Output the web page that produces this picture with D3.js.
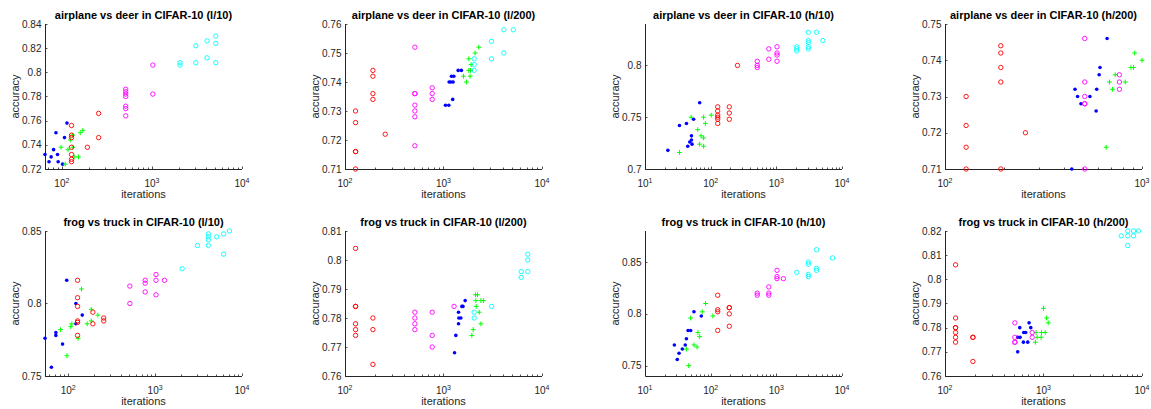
<!DOCTYPE html>
<html>
<head>
<meta charset="utf-8">
<script src="https://cdn.jsdelivr.net/npm/d3@7"></script>
<style>
body { margin: 0; background: #fff; }
svg { display: block; font-family: "Liberation Sans", Arial, sans-serif; }
</style>
</head>
<body>
<div id="chart"></div>
<script>
// titles and axis limits, one entry per subplot (row by row)
var titles = [
  "airplane vs deer in CIFAR-10 (l/10)", "airplane vs deer in CIFAR-10 (l/200)",
  "airplane vs deer in CIFAR-10 (h/10)", "airplane vs deer in CIFAR-10 (h/200)",
  "frog vs truck in CIFAR-10 (l/10)", "frog vs truck in CIFAR-10 (l/200)",
  "frog vs truck in CIFAR-10 (h/10)", "frog vs truck in CIFAR-10 (h/200)"
];
var xDomains = [[65, 1e4], [100, 1e4], [10, 1e4], [100, 1000], [54, 1e4], [100, 1e4], [10, 1e4], [100, 1e4]];
var xTicks = [[100, 1000, 10000], [100, 1000, 10000], [10, 100, 1000, 10000], [100, 1000],
              [100, 1000, 10000], [100, 1000, 10000], [10, 100, 1000, 10000], [100, 1000, 10000]];
var yDomains = [[0.72, 0.84], [0.71, 0.76], [0.70, 0.84], [0.71, 0.75], [0.75, 0.85], [0.76, 0.81], [0.74, 0.88], [0.76, 0.82]];
var yTicks = [
  [0.72, 0.74, 0.76, 0.78, 0.8, 0.82, 0.84],
  [0.71, 0.72, 0.73, 0.74, 0.75, 0.76],
  [0.7, 0.75, 0.8],
  [0.71, 0.72, 0.73, 0.74, 0.75],
  [0.75, 0.8, 0.85],
  [0.76, 0.77, 0.78, 0.79, 0.8, 0.81],
  [0.75, 0.8, 0.85],
  [0.76, 0.77, 0.78, 0.79, 0.8, 0.81, 0.82]
];

// points [iterations, accuracy]
var adL10Blue = [[65,.732],[72,.726],[76,.730],[81,.736],[86,.750],[89.5,.732],[91,.726],[102,.724],[107,.746],[114,.758]];
var adL10Green = [[98,.738],[109,.724],[117,.736],[124,.744],[132,.748],[133,.738],[137,.730],[153,.730],[160,.750],[171,.752]];
var adL10Red = [[128,.756],[128,.748],[128,.746],[128,.738],[128,.732],[128,.728],[128,.726],[192,.738],[256,.766],[256,.746]];
var adL10Magenta = [[512,.786],[512,.784],[512,.782],[512,.780],[512,.772],[512,.770],[512,.764],[1024,.806],[1024,.782]];
var adL10Cyan = [[2048,.808],[2048,.806],[3072,.822],[3072,.808],[4096,.826],[4096,.812],[5120,.830],[5120,.824],[5120,.808]];

var adL200Blue = [[1047,.732],[1132,.732],[1141,.740],[1190,.740],[1205,.742],[1240,.734],[1252,.740],[1273,.742],[1409,.744],[1520,.744]];
var adL200Green = [[1597,.742],[1710,.740],[1807,.744],[1807,.748],[1862,.742],[1880,.744],[1906,.746],[2094,.750],[2282,.752]];
var adL200Red = [[128,.730],[128,.726],[128,.716],[128,.716],[128,.710],[192,.744],[192,.742],[192,.736],[192,.734],[256,.722]];
var adL200Magenta = [[512,.752],[512,.736],[512,.736],[512,.732],[512,.730],[512,.728],[512,.718],[768,.738],[768,.736],[768,.734]];
var adL200Cyan = [[2048,.748],[2048,.746],[2048,.744],[3072,.754],[3072,.748],[4096,.758],[4096,.750],[5120,.758]];

var adH10Blue = [[22.3,.718],[33.5,.742],[42.8,.744],[44.8,.722],[48,.726],[51,.728],[51,.732],[52,.724],[55,.748],[68,.764]];
var adH10Green = [[33.5,.716],[50.4,.750],[63.5,.738],[68,.724],[71.4,.732],[78,.730],[78,.722],[78,.750],[83,.744],[102,.752]];
var adH10Red = [[128,.760],[128,.756],[128,.752],[128,.750],[128,.748],[128,.744],[192,.760],[192,.754],[192,.748],[256,.800]];
var adH10Magenta = [[512,.804],[512,.800],[512,.798],[768,.816],[768,.806],[1024,.818],[1024,.812],[1024,.810],[1024,.804]];
var adH10Cyan = [[2048,.818],[2048,.816],[2048,.814],[3072,.832],[3072,.824],[3072,.822],[3072,.818],[3072,.816],[4096,.832],[5120,.824]];

var adH200Blue = [[440,.710],[457,.732],[471,.730],[490,.728],[544,.730],[585,.726],[589,.732],[606,.736],[612,.738],[665,.746]];
var adH200Green = [[658,.716],[684,.734],[708,.732],[731,.736],[822,.734],[879,.738],[906,.738],[918,.742],[1000,.740]];
var adH200Red = [[128,.730],[128,.722],[128,.716],[128,.710],[192,.744],[192,.742],[192,.738],[192,.734],[192,.710],[256,.720]];
var adH200Magenta = [[512,.746],[512,.734],[512,.730],[512,.728],[512,.728],[512,.710],[768,.736],[768,.734],[768,.732]];
var adH200Cyan = [];

var ftL10Blue = [[54,.776],[64,.756],[72,.778],[72,.780],[86,.772],[96,.816],[122.5,.800],[122.5,.786],[145,.792]];
var ftL10Green = [[81.6,.782],[96.6,.764],[107,.784],[110,.786],[130,.776],[142,.810],[165,.786],[184,.796],[184,.788],[219,.792]];
var ftL10Red = [[128,.816],[128,.804],[128,.798],[128,.788],[128,.787],[128,.778],[192,.794],[192,.786],[256,.790],[256,.788]];
var ftL10Magenta = [[512,.812],[512,.800],[768,.816],[768,.814],[768,.808],[1024,.820],[1024,.816],[1024,.806],[1280,.816]];
var ftL10Cyan = [[2048,.824],[3072,.840],[4096,.848],[4096,.846],[4096,.844],[4096,.840],[5120,.846],[6144,.848],[6144,.834],[7168,.850]];

var ftL200Blue = [[1294,.768],[1335,.774],[1421,.782],[1421,.778],[1432,.780],[1500,.780],[1535,.784],[1577,.784],[1660,.786]];
var ftL200Green = [[1940,.774],[2003,.776],[2115,.788],[2215,.788],[2130,.786],[2150,.784],[2306,.782],[2398,.778],[2398,.786],[2553,.786]];
var ftL200Red = [[128,.804],[128,.784],[128,.784],[128,.778],[128,.776],[128,.774],[192,.780],[192,.776],[192,.764]];
var ftL200Magenta = [[512,.782],[512,.780],[512,.778],[512,.776],[768,.782],[768,.774],[768,.770],[1280,.784]];
var ftL200Cyan = [[2048,.782],[2048,.780],[3072,.784],[6144,.796],[6144,.794],[7168,.802],[7168,.800],[7168,.796]];

var ftH10Blue = [[28,.770],[31,.756],[33,.762],[37,.766],[41,.770],[42.7,.776],[45.3,.784],[49.6,.784],[55.7,.802],[72,.798]];
var ftH10Green = [[42.7,.766],[46.3,.750],[49.6,.796],[55.7,.770],[62,.768],[64,.782],[68,.778],[74.5,.802],[83.7,.810],[108,.798]];
var ftH10Red = [[128,.818],[128,.804],[128,.802],[128,.784],[192,.806],[192,.806],[192,.800],[192,.788]];
var ftH10Magenta = [[512,.820],[512,.818],[768,.826],[768,.820],[768,.818],[1024,.842],[1024,.836],[1024,.834],[1280,.834]];
var ftH10Cyan = [[2048,.840],[3072,.850],[3072,.848],[3072,.838],[3072,.836],[4096,.862],[4096,.844],[4096,.842],[7168,.854]];

var ftH200Blue = [[547,.770],[547,.776],[574,.780],[578,.776],[625,.774],[630,.778],[660,.778],[692,.774],[714,.782],[743,.780]];
var ftH200Green = [[828,.774],[840,.778],[861,.776],[946,.776],[954,.778],[1000,.788],[1040,.778],[1074,.784],[1117,.782]];
var ftH200Red = [[128,.806],[128,.784],[128,.780],[128,.780],[128,.778],[128,.776],[128,.774],[192,.776],[192,.776],[192,.766]];
var ftH200Magenta = [[512,.782],[512,.776],[512,.774],[512,.774],[768,.778],[768,.776]];
var ftH200Cyan = [[6144,.818],[7168,.820],[7168,.818],[7168,.814],[8192,.820],[8192,.818],[9216,.820]];

// series per subplot: blue, green, red, magenta, cyan
var panelSeries = [
  [adL10Blue, adL10Green, adL10Red, adL10Magenta, adL10Cyan],
  [adL200Blue, adL200Green, adL200Red, adL200Magenta, adL200Cyan],
  [adH10Blue, adH10Green, adH10Red, adH10Magenta, adH10Cyan],
  [adH200Blue, adH200Green, adH200Red, adH200Magenta, adH200Cyan],
  [ftL10Blue, ftL10Green, ftL10Red, ftL10Magenta, ftL10Cyan],
  [ftL200Blue, ftL200Green, ftL200Red, ftL200Magenta, ftL200Cyan],
  [ftH10Blue, ftH10Green, ftH10Red, ftH10Magenta, ftH10Cyan],
  [ftH200Blue, ftH200Green, ftH200Red, ftH200Magenta, ftH200Cyan]
];
var seriesColors = ["#0000ff", "#00ff00", "#ff0000", "#ff00ff", "#00ffff"];
var seriesMarkers = ["dot", "plus", "circle", "circle", "circle"];

var axisColor = "#262626";
var W = 197, H = 145;

var svg = d3.select("#chart").append("svg")
    .attr("width", 1151)
    .attr("height", 409);

titles.forEach(function(title, i) {
    var col = i % 4, row = Math.floor(i / 4);
    var left = 45 + col * 300;
    var top = row === 0 ? 24 : 231;

    var x = d3.scaleLog().domain(xDomains[i]).range([0, W]);
    var y = d3.scaleLinear().domain(yDomains[i]).range([H, 0]);

    var g = svg.append("g").attr("transform", "translate(" + left + "," + top + ")");

    // minor ticks for the log axis
    var lo = Math.floor(Math.log10(xDomains[i][0])), hi = Math.ceil(Math.log10(xDomains[i][1]));
    var minor = [];
    for (var k = lo; k < hi; k++) {
        for (var m = 2; m <= 9; m++) {
            var v = m * Math.pow(10, k);
            if (v >= xDomains[i][0] && v <= xDomains[i][1]) minor.push(v);
        }
    }
    g.selectAll(".minor").data(minor).enter().append("line")
        .attr("x1", function(d) { return Math.round(x(d)) + 0.5; })
        .attr("x2", function(d) { return Math.round(x(d)) + 0.5; })
        .attr("y1", H).attr("y2", H - 1.5)
        .attr("stroke", axisColor).attr("stroke-width", 0.8);

    g.selectAll(".xmajor").data(xTicks[i]).enter().append("line")
        .attr("x1", function(d) { return Math.round(x(d)) + 0.5; })
        .attr("x2", function(d) { return Math.round(x(d)) + 0.5; })
        .attr("y1", H).attr("y2", H - 2.5)
        .attr("stroke", axisColor).attr("stroke-width", 0.8);

    g.selectAll(".ymajor").data(yTicks[i]).enter().append("line")
        .attr("x1", 0).attr("x2", 2.5)
        .attr("y1", function(d) { return Math.round(y(d)) + 0.5; })
        .attr("y2", function(d) { return Math.round(y(d)) + 0.5; })
        .attr("stroke", axisColor).attr("stroke-width", 0.8);

    // axis lines (box off)
    g.append("path")
        .attr("d", "M0.5,0V" + (H + 0.5) + "H" + W)
        .attr("fill", "none").attr("stroke", axisColor).attr("stroke-width", 1);

    // y tick labels
    g.selectAll(".ylab").data(yTicks[i]).enter().append("text")
        .attr("x", -3.5)
        .attr("y", function(d) { return y(d) + 3.6; })
        .attr("text-anchor", "end")
        .attr("font-size", 10)
        .attr("fill", axisColor)
        .text(function(d) { return String(+d.toFixed(3)); });

    // x tick labels, 10^k
    var xl = g.selectAll(".xlab").data(xTicks[i]).enter().append("text")
        .attr("x", function(d) { return x(d); })
        .attr("y", H + 18)
        .attr("text-anchor", "middle")
        .attr("font-size", 10)
        .attr("fill", axisColor);
    xl.append("tspan").text("10");
    xl.append("tspan").attr("dy", -4.5).attr("font-size", 7)
        .text(function(d) { return Math.round(Math.log10(d)); });

    // title and axis labels
    g.append("text")
        .attr("x", W / 2).attr("y", -5)
        .attr("text-anchor", "middle")
        .attr("font-size", 11).attr("font-weight", "bold")
        .attr("fill", "#000")
        .text(title);

    g.append("text")
        .attr("x", W / 2).attr("y", H + 29)
        .attr("text-anchor", "middle")
        .attr("font-size", 11)
        .attr("fill", axisColor)
        .text("iterations");

    g.append("text")
        .attr("transform", "translate(-26," + (H / 2) + ") rotate(-90)")
        .attr("text-anchor", "middle")
        .attr("font-size", 11)
        .attr("fill", axisColor)
        .text("accuracy");

    // markers
    panelSeries[i].forEach(function(pts, s) {
        var color = seriesColors[s];
        var sel = g.selectAll(".s" + s).data(pts).enter();
        if (seriesMarkers[s] === "dot") {
            sel.append("circle")
                .attr("cx", function(d) { return x(d[0]); })
                .attr("cy", function(d) { return y(d[1]); })
                .attr("r", 1.8)
                .attr("fill", color);
        } else if (seriesMarkers[s] === "plus") {
            sel.append("path")
                .attr("d", function(d) {
                    var cx = x(d[0]), cy = y(d[1]);
                    return "M" + (cx - 2.4) + "," + cy + "H" + (cx + 2.4) +
                           "M" + cx + "," + (cy - 2.4) + "V" + (cy + 2.4);
                })
                .attr("stroke", color).attr("stroke-width", 1)
                .attr("fill", "none");
        } else {
            sel.append("circle")
                .attr("cx", function(d) { return x(d[0]); })
                .attr("cy", function(d) { return y(d[1]); })
                .attr("r", 2.2)
                .attr("fill", "none")
                .attr("stroke", color).attr("stroke-width", 0.9);
        }
    });
});
</script>
</body>
</html>
